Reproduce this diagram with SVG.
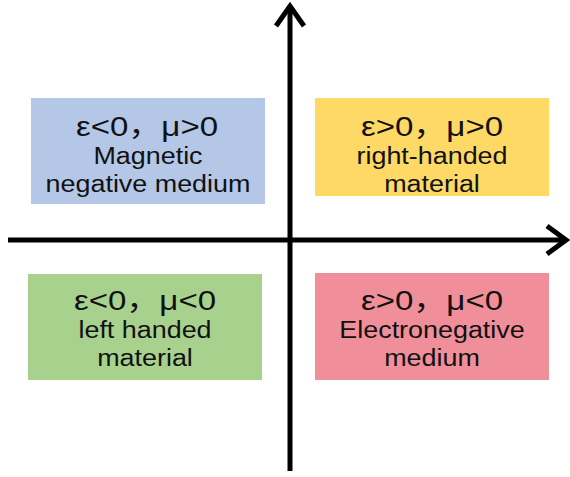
<svg xmlns="http://www.w3.org/2000/svg" width="570" height="477" viewBox="0 0 570 477">
<style>
.box{stroke:none}
.t1{font-family:"Liberation Sans","Noto Sans CJK SC",sans-serif;font-size:28px;fill:#111;text-anchor:middle}
.t2{font-family:"Liberation Sans",Arial,sans-serif;font-size:23px;fill:#111;text-anchor:middle}
.ax{stroke:#000;stroke-width:5;fill:none;stroke-linecap:butt}
.ah{stroke:#000;stroke-width:5;fill:none;stroke-linejoin:miter;stroke-linecap:butt}
</style>
<rect width="570" height="477" fill="#fff"/>
<g id="connectors">
<line class="ax" x1="290" y1="8" x2="290" y2="471"/>
<polyline class="ah" points="276,26 290,6 304,26"/>
<line class="ax" x1="8" y1="240" x2="564" y2="240"/>
<polyline class="ah" points="547,226 566,240 547,254"/>
</g>
<g id="magnetic-negative">
<rect class="box" x="31" y="98" width="234" height="106" fill="#B4C7E7"/>
<text class="t1" transform="translate(147,136) scale(1.18,1)">ε&lt;0，μ&gt;0</text>
<text class="t2" transform="translate(148,164) scale(1.17,1)">Magnetic</text>
<text class="t2" transform="translate(148,192) scale(1.17,1)">negative medium</text>
</g>
<g id="right-handed">
<rect class="box" x="315" y="98" width="234" height="98" fill="#FFD966"/>
<text class="t1" transform="translate(432,136) scale(1.18,1)">ε&gt;0，μ&gt;0</text>
<text class="t2" transform="translate(432,164) scale(1.17,1)">right-handed</text>
<text class="t2" transform="translate(432,192) scale(1.17,1)">material</text>
</g>
<g id="left-handed">
<rect class="box" x="28" y="274" width="234" height="106" fill="#A9D18E"/>
<text class="t1" transform="translate(145,310) scale(1.18,1)">ε&lt;0，μ&lt;0</text>
<text class="t2" transform="translate(145,338) scale(1.17,1)">left handed</text>
<text class="t2" transform="translate(145,366) scale(1.17,1)">material</text>
</g>
<g id="electronegative">
<rect class="box" x="315" y="273" width="234" height="107" fill="#F08F9A"/>
<text class="t1" transform="translate(432,310) scale(1.18,1)">ε&gt;0，μ&lt;0</text>
<text class="t2" transform="translate(432,338) scale(1.17,1)">Electronegative</text>
<text class="t2" transform="translate(432,366) scale(1.17,1)">medium</text>
</g>
</svg>
